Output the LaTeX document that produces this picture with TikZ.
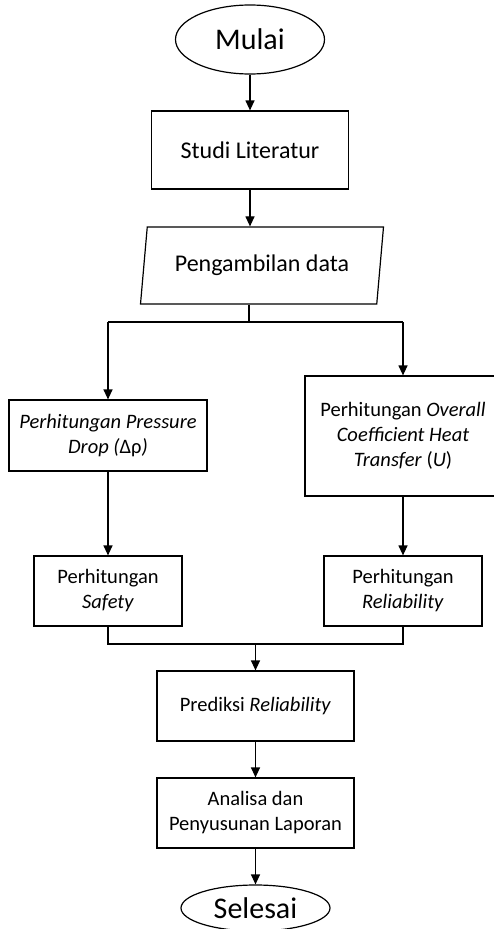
\documentclass[tikz,border=0pt]{standalone}
\usepackage{fontspec}
\setmainfont{Carlito}
\usetikzlibrary{shapes.geometric,arrows.meta}

\begin{document}
\begin{tikzpicture}[x=1pt,y=-1pt,->,>={Triangle[width=9pt,length=10pt]},line width=1.2pt,
        term/.style={ellipse,draw,minimum width=149pt,minimum height=69pt,inner sep=0pt,font=\fontsize{30}{36}\selectfont},
        main box/.style={rectangle,draw,inner sep=0pt,align=center,font=\fontsize{20.5}{25}\selectfont},
        data node/.style={trapezium,trapezium left angle=72,trapezium right angle=108,trapezium stretches body,
            draw,minimum width=243pt,minimum height=77pt,inner sep=0pt,font=\fontsize{24}{29}\selectfont}]

    \useasboundingbox (0,0) rectangle (493,929);

    \node[term] (mulai) at (250,39.5) {Mulai};
    \node[main box,minimum width=197pt,minimum height=78pt,font=\fontsize{24}{29}\selectfont] (studi) at (250,150) {Studi Literatur};
    \node[data node] (data) at (262,265.5) {Pengambilan data};
    \coordinate (split) at (249,322);

    \node[main box,minimum width=198pt,minimum height=71pt] (pdrop) at (108,435.5)
        {\itshape Perhitungan Pressure\\ \itshape Drop ({\upshape Δρ})};
    \node[main box,minimum width=196pt,minimum height=120pt] (ucoef) at (403,436)
        {Perhitungan \textit{Overall}\\ \textit{Coefficient Heat}\\ \textit{Transfer} (\textit{U})};

    \node[main box,minimum width=148pt,minimum height=70pt] (safety) at (108,591) {Perhitungan\\ \textit{Safety}};
    \node[main box,minimum width=158pt,minimum height=70pt] (reliab) at (403,591) {Perhitungan\\ \textit{Reliability}};
    \coordinate (join) at (255.5,644);

    \node[main box,minimum width=197pt,minimum height=70pt] (prediksi) at (255.5,706) {Prediksi \textit{Reliability}};
    \node[main box,minimum width=197pt,minimum height=70pt] (analisa) at (255.5,813) {Analisa dan\\ Penyusunan Laporan};
    \node[term,minimum height=46pt] (selesai) at (255.5,908) {Selesai};

    \draw (mulai) -- (studi);
    \draw (studi) -- (studi |- data.north);
    \draw[-] (split |- data.south) -- (split);
    \draw[-] (pdrop |- split) -- (ucoef |- split);
    \draw (pdrop |- split) -- (pdrop);
    \draw (ucoef |- split) -- (ucoef);
    \draw (pdrop) -- (safety);
    \draw (ucoef) -- (reliab);
    \draw[-] (safety) -- (safety |- join) -- (reliab |- join) -- (reliab);
    \draw (join) -- (prediksi);
    \draw (prediksi) -- (analisa);
    \draw (analisa) -- (selesai);

\end{tikzpicture}
\end{document}
